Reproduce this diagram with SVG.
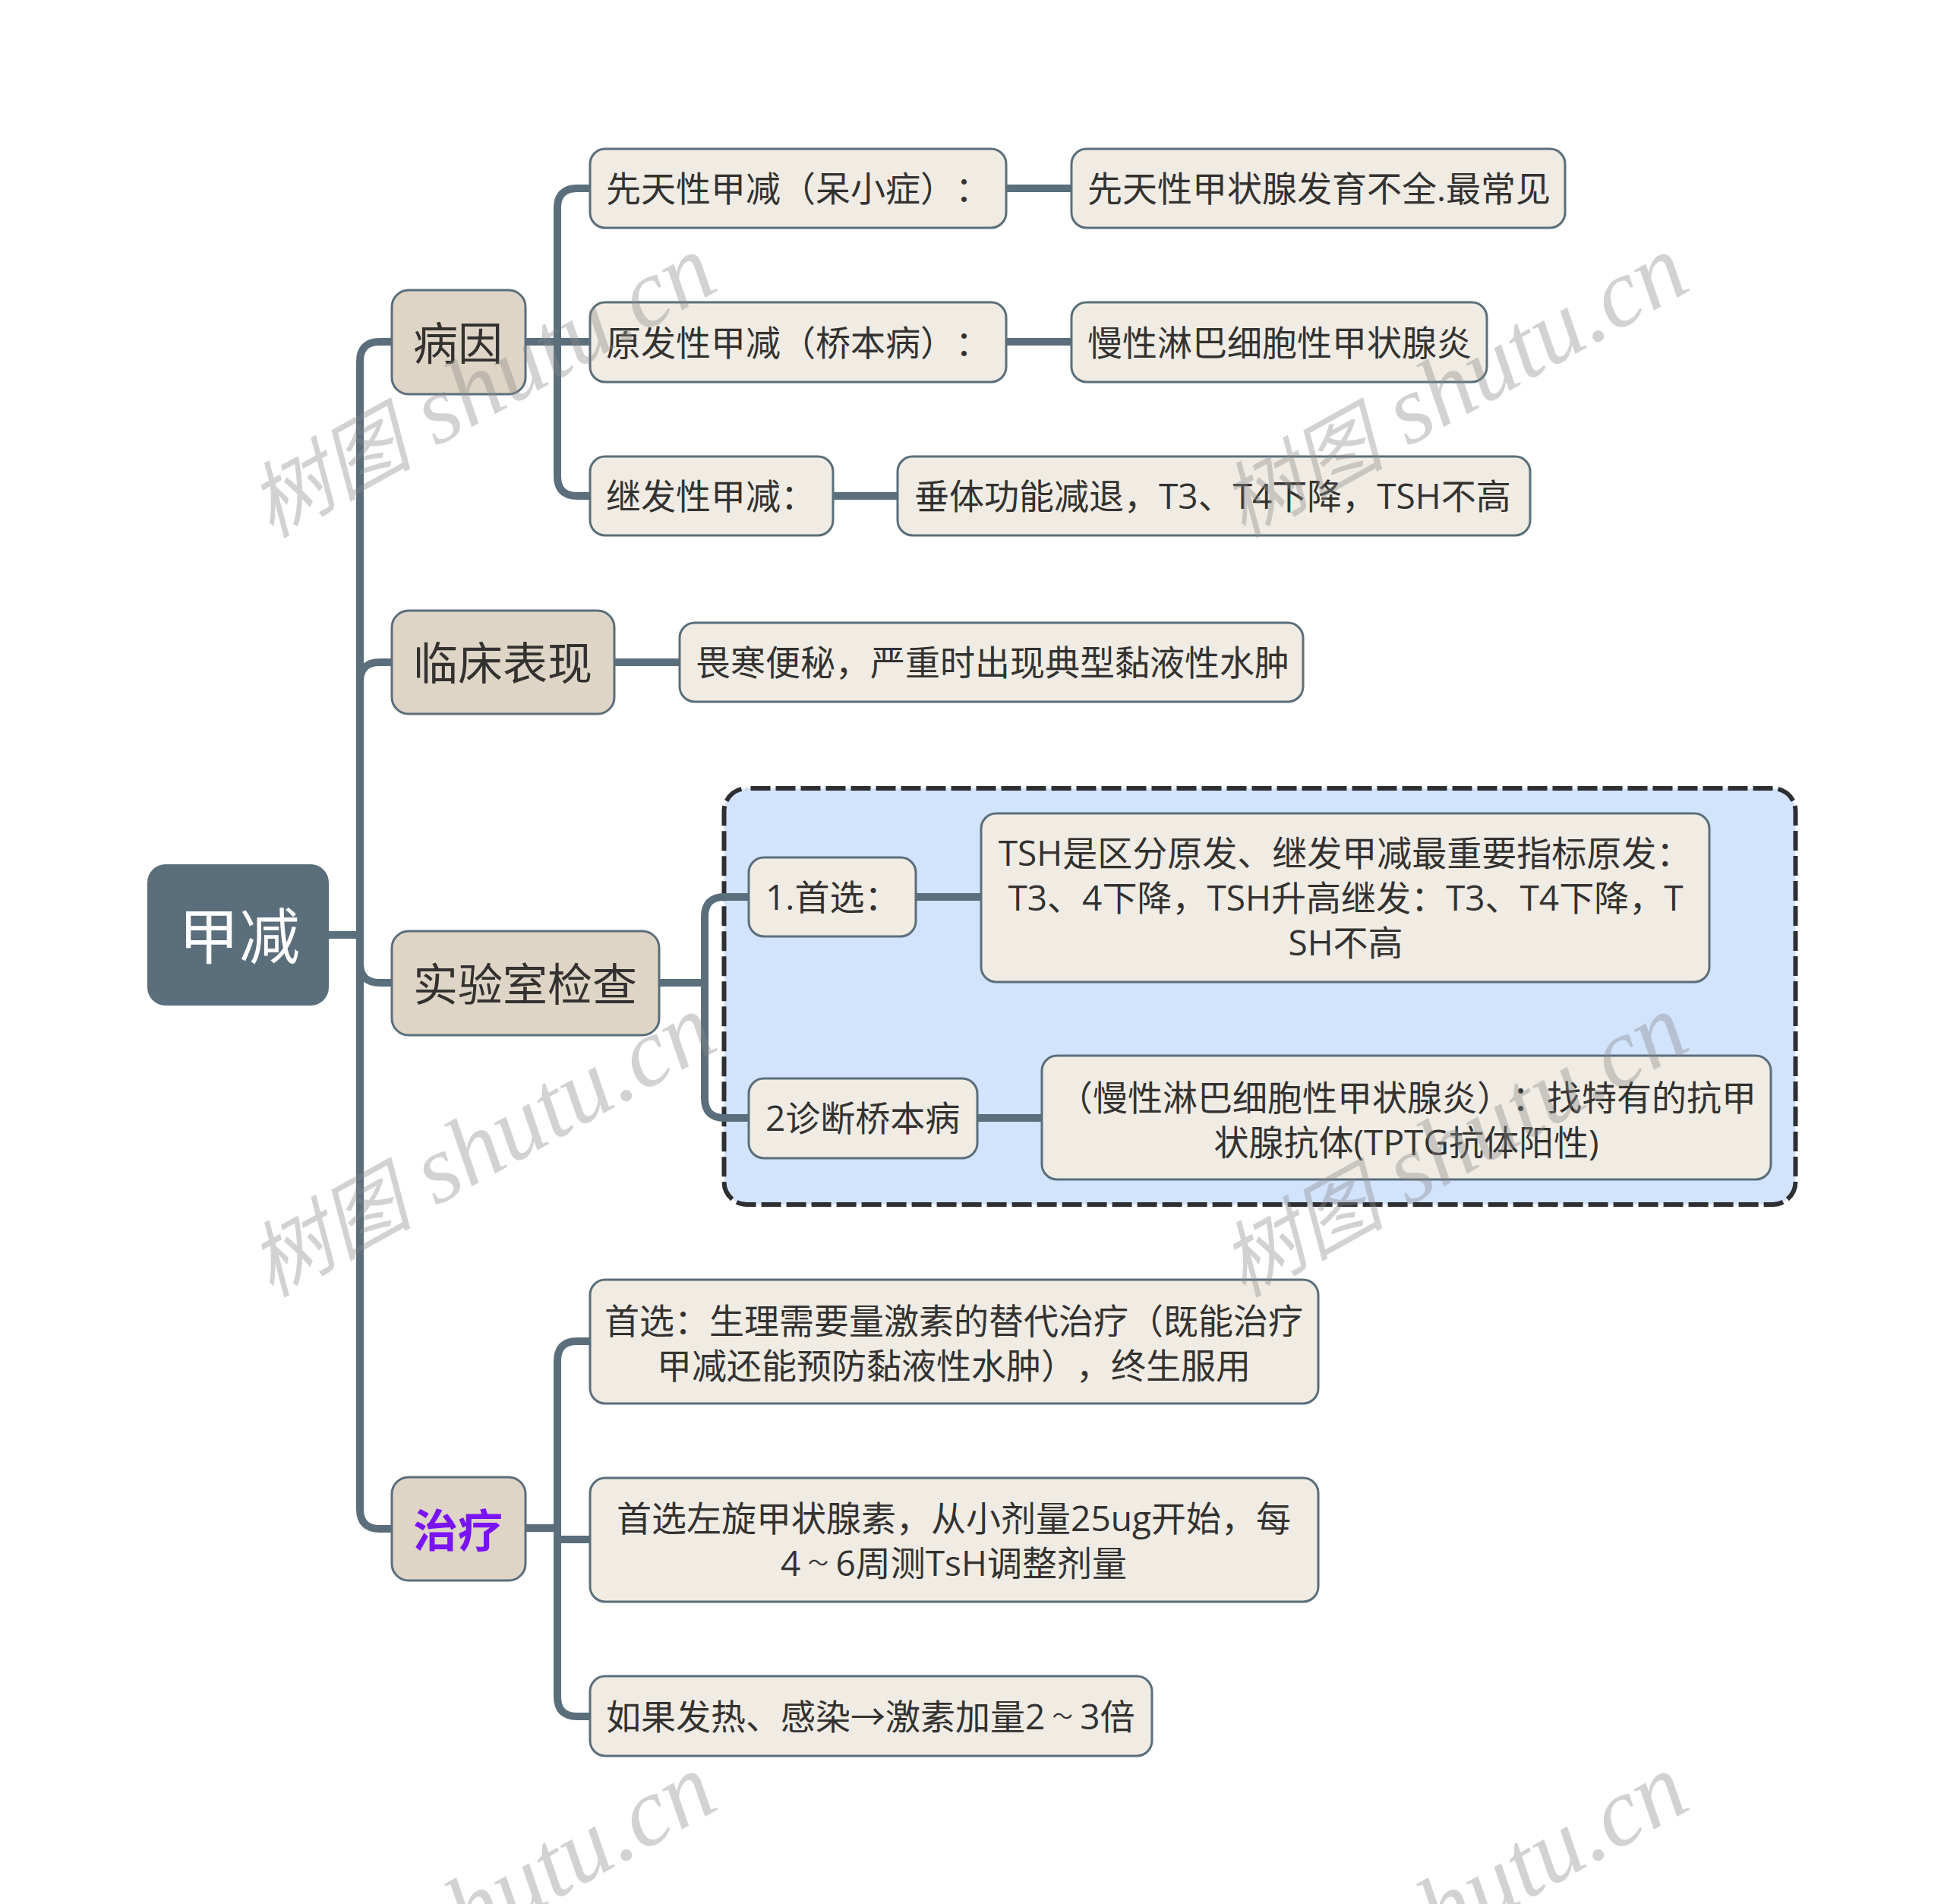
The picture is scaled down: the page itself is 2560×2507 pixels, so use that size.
<svg xmlns="http://www.w3.org/2000/svg" width="2560" height="2507" viewBox="0 0 2560 2507">
<style>
.c{fill:none;stroke:#5a6e7b;stroke-width:10}
.n rect{stroke:#5a6e7b;stroke-width:3}
.l2 rect{fill:#f0ece4}
.l1 rect{fill:#dfd5c6}
text{font-family:"Open Sans","Noto Sans CJK SC",sans-serif;fill:#333230;dominant-baseline:central;text-spacing-trim:space-all}
.l2 text{font-size:46px}
.l1 text{font-size:59px}
.m{text-anchor:middle}
.t{font-size:27px}
.w{font-family:"Liberation Serif","Noto Sans CJK SC",serif;font-style:italic;font-size:128px;fill:#888;fill-opacity:.38;text-anchor:end;dominant-baseline:auto}
.w tspan{font-size:108px}
</style>
<rect width="2560" height="2507" fill="#fff"/>
<rect id="boundary" x="953.5" y="1038" width="1411" height="548" rx="30" fill="#d2e3fc" stroke="#2d2f33" stroke-width="6" stroke-dasharray="26 7" stroke-dashoffset="-5"/>
<g id="connectors" class="c">
<path d="M433 1231H474"/>
<path d="M515 450H500Q474 450 474 476V1987Q474 2013 500 2013H515"/>
<path d="M515 872H500Q474 872 474 898"/>
<path d="M515 1294H500Q474 1294 474 1268"/>
<path d="M692 450H776"/>
<path d="M776 248H760Q734 248 734 274V627Q734 653 760 653H776"/>
<path d="M1324 248H1411"/>
<path d="M1324 450H1411"/>
<path d="M1097 653H1182"/>
<path d="M810 872H895"/>
<path d="M868 1294H928"/>
<path d="M986 1181H954Q928 1181 928 1207V1446Q928 1472 954 1472H986"/>
<path d="M1206 1181H1292"/>
<path d="M1287 1472H1372"/>
<path d="M692 2012H734"/>
<path d="M776 1766H760Q734 1766 734 1792V2234Q734 2260 760 2260H776"/>
<path d="M734 2027H776"/>
</g>
<g id="root"><rect x="194" y="1138" width="239" height="186" rx="24" fill="#5a6e7b"/><text class="m" x="315" y="1230" font-size="80" style="fill:#fff">甲减</text></g>
<g id="n1" class="n l1"><rect x="516" y="382" width="176" height="137" rx="22"/><text x="544" y="451">病因</text></g>
<g id="n2" class="n l1"><rect x="516" y="804" width="293" height="136" rx="22"/><text x="544" y="872">临床表现</text></g>
<g id="n3" class="n l1"><rect x="516" y="1226" width="352" height="137" rx="22"/><text x="544" y="1295">实验室检查</text></g>
<g id="n4" class="n l1"><rect x="516" y="1945" width="176" height="136" rx="22"/><text x="544" y="2014" style="fill:#7a13f5;font-weight:700">治疗</text></g>
<g id="n11" class="n l2"><rect x="777" y="196" width="548" height="104" rx="20"/><text x="798" y="247">先天性甲减（呆小症）：</text></g>
<g id="n12" class="n l2"><rect x="777" y="398" width="548" height="105" rx="20"/><text x="798" y="450">原发性甲减（桥本病）：</text></g>
<g id="n13" class="n l2"><rect x="777" y="601" width="320" height="104" rx="20"/><text x="798" y="652">继发性甲减：</text></g>
<g id="n111" class="n l2"><rect x="1411" y="196" width="650" height="104" rx="20"/><text x="1432" y="247">先天性甲状腺发育不全.最常见</text></g>
<g id="n121" class="n l2"><rect x="1411" y="398" width="547" height="105" rx="20"/><text x="1432" y="450">慢性淋巴细胞性甲状腺炎</text></g>
<g id="n131" class="n l2"><rect x="1182" y="601" width="833" height="104" rx="20"/><text x="1204" y="652">垂体功能减退，T3、T4下降，TSH不高</text></g>
<g id="n21" class="n l2"><rect x="895" y="820" width="821" height="104" rx="20"/><text x="916" y="871">畏寒便秘，严重时出现典型黏液性水肿</text></g>
<g id="n31" class="n l2"><rect x="986" y="1129" width="220" height="104" rx="20"/><text x="1008" y="1180">1.首选：</text></g>
<g id="n311" class="n l2"><rect x="1292" y="1071" width="959" height="222" rx="20"/><text class="m" x="1771" y="1122">TSH是区分原发、继发甲减最重要指标原发：</text><text class="m" x="1772" y="1181">T3、4下降，TSH升高继发：T3、T4下降，T</text><text class="m" x="1772" y="1240">SH不高</text></g>
<g id="n32" class="n l2"><rect x="986" y="1420" width="301" height="105" rx="20"/><text x="1008" y="1471">2诊断桥本病</text></g>
<g id="n321" class="n l2"><rect x="1372" y="1390" width="960" height="163" rx="20"/><text class="m" x="1853" y="1444">（慢性淋巴细胞性甲状腺炎）：找特有的抗甲</text><text class="m" x="1852" y="1503">状腺抗体(TPTG抗体阳性)</text></g>
<g id="n41" class="n l2"><rect x="777" y="1685" width="959" height="163" rx="20"/><text class="m" x="1256" y="1738">首选：生理需要量激素的替代治疗（既能治疗</text><text class="m" x="1256" y="1797">甲减还能预防黏液性水肿），终生服用</text></g>
<g id="n42" class="n l2"><rect x="777" y="1946" width="959" height="163" rx="20"/><text class="m" x="1256" y="1998">首选左旋甲状腺素，从小剂量25ug开始，每</text><text class="m" x="1256" y="2057">4<tspan class="t" dx="9.5">～</tspan><tspan dx="9.5">6周测TsH调整剂量</tspan></text></g>
<g id="n43" class="n l2"><rect x="777" y="2207" width="740" height="105" rx="20"/><text x="798" y="2259">如果发热、感染→激素加量2<tspan class="t" dx="9.5">～</tspan><tspan dx="9.5">3倍</tspan></text></g>
<g id="watermark">
<text class="w" transform="translate(950 380) rotate(-29)"><tspan>树图</tspan> shutu.cn</text>
<text class="w" transform="translate(2230 380) rotate(-29)"><tspan>树图</tspan> shutu.cn</text>
<text class="w" transform="translate(950 1380) rotate(-29)"><tspan>树图</tspan> shutu.cn</text>
<text class="w" transform="translate(2230 1380) rotate(-29)"><tspan>树图</tspan> shutu.cn</text>
<text class="w" transform="translate(950 2380) rotate(-29)"><tspan>树图</tspan> shutu.cn</text>
<text class="w" transform="translate(2230 2380) rotate(-29)"><tspan>树图</tspan> shutu.cn</text>
</g>
</svg>
